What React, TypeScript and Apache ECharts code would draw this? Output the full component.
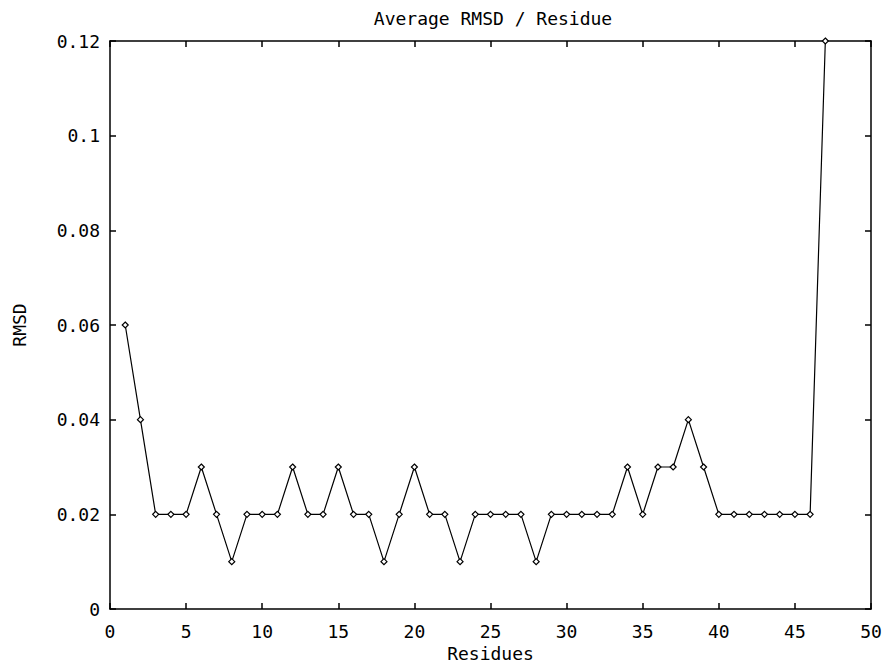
import React, { useEffect, useRef } from "react";
import * as echarts from "echarts";

const residues = [1,2,3,4,5,6,7,8,9,10,11,12,13,14,15,16,17,18,19,20,21,22,23,24,25,26,27,28,29,30,31,32,33,34,35,36,37,38,39,40,41,42,43,44,45,46,47];
const rmsd = [0.06,0.04,0.02,0.02,0.02,0.03,0.02,0.01,0.02,0.02,0.02,0.03,0.02,0.02,0.03,0.02,0.02,0.01,0.02,0.03,0.02,0.02,0.01,0.02,0.02,0.02,0.02,0.01,0.02,0.02,0.02,0.02,0.02,0.03,0.02,0.03,0.03,0.04,0.03,0.02,0.02,0.02,0.02,0.02,0.02,0.02,0.12];
const titleText = "Average RMSD / Residue";
const xName = "Residues";
const yName = "RMSD";

const FONT = "DejaVu Sans Mono";
const FS = 18;

export default function App() {
  const ref = useRef<HTMLDivElement>(null);
  useEffect(() => {
    const chart = echarts.init(ref.current!, null, { renderer: "svg" });
    const axisCommon = {
      axisLine: { show: true, onZero: false, lineStyle: { color: "#000", width: 1.5 } },
      axisTick: { show: true, inside: true, length: 6, lineStyle: { color: "#000", width: 1.5 } },
      splitLine: { show: false },
      axisLabel: { color: "#000", fontFamily: FONT, fontSize: FS },
    };
    chart.setOption({
      animation: false,
      backgroundColor: "#fff",
      title: {
        text: titleText,
        left: 488,
        textAlign: "center",
        top: 4,
        textStyle: { color: "#000", fontFamily: FONT, fontSize: FS, fontWeight: "normal" },
      },
      grid: { left: 110, right: 12, top: 41, bottom: 56, containLabel: false, outerBoundsMode: "none" },
      xAxis: [
        {
          type: "value", min: 0, max: 50, interval: 5, position: "bottom",
          name: xName, nameLocation: "middle", nameGap: 35,
          nameTextStyle: { color: "#000", fontFamily: FONT, fontSize: FS, lineHeight: 18 },
          ...axisCommon,
          axisLabel: { ...axisCommon.axisLabel, margin: 13 },
        },
        {
          type: "value", min: 0, max: 50, interval: 5, position: "top",
          ...axisCommon,
          axisLabel: { show: false },
        },
      ],
      yAxis: [
        {
          type: "value", min: 0, max: 0.12, interval: 0.02, position: "left",
          name: yName, nameLocation: "middle", nameGap: 82, nameRotate: 90,
          nameTextStyle: { color: "#000", fontFamily: FONT, fontSize: FS },
          ...axisCommon,
          axisLabel: { ...axisCommon.axisLabel, margin: 10, formatter: (v: number) => String(+v.toFixed(2)) },
        },
        {
          type: "value", min: 0, max: 0.12, interval: 0.02, position: "right",
          ...axisCommon,
          axisLabel: { show: false },
        },
      ],
      series: [
        {
          type: "line",
          data: residues.map((r, i) => [r, rmsd[i]]),
          symbol: "diamond",
          symbolSize: 6,
          showSymbol: true,
          lineStyle: { color: "#000", width: 1.2 },
          itemStyle: { color: "#fff", borderColor: "#000", borderWidth: 1.2 },
        },
      ],
    });
    return () => chart.dispose();
  }, []);
  return <div ref={ref} style={{ position: "absolute", left: 0, top: 0, width: 883, height: 665 }} />;
}
